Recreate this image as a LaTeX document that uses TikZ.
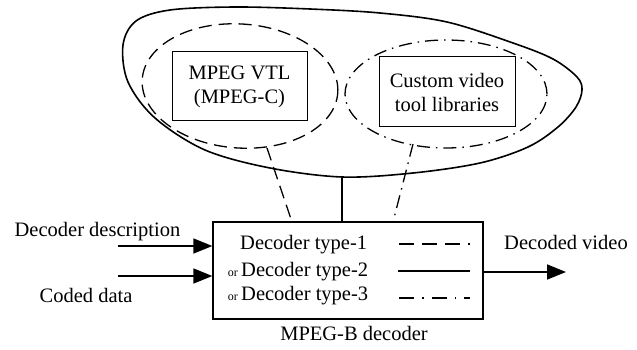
\documentclass[tikz,border=0pt]{standalone}
\usepackage{fontspec}
\setmainfont{Liberation Serif}
\usetikzlibrary{shapes.geometric,arrows.meta,calc}
\begin{document}
\begin{tikzpicture}[x=1pt,y=-1pt,
  txt/.style={font=\fontsize{20.5}{23}\selectfont, inner sep=0pt, align=center},
  small/.style={font=\fontsize{12}{13}\selectfont, inner sep=0pt},
  libbox/.style={draw, line width=1pt, inner sep=0pt, align=center, font=\fontsize{20.5}{24}\selectfont},
  dsh/.style={line width=1.3pt, dash pattern=on 13pt off 7pt},
  dshdot/.style={line width=1.3pt, dash pattern=on 13pt off 6pt on 1.5pt off 6pt},
  arr/.style={line width=1.6pt, -{Triangle[length=19pt,width=15pt]}},
  legdash/.style={line width=1.3pt, dash pattern=on 15pt off 8pt},
  legdashdot/.style={line width=1.3pt, dash pattern=on 15pt off 8pt on 1.5pt off 8pt},
]
\useasboundingbox (0,0) rectangle (637,350);

% outer blob
\draw[line width=1.6pt] plot[smooth cycle, tension=0.55] coordinates {
  (123,45) (136,21) (170,10) (235,7) (310,9) (380,13) (447,22) (513,43)
  (553,59) (577,77) (582,90) (576,107) (558,127) (528,147) (480,163)
  (413,173) (342,177) (270,168) (205,150) (155,118) (128,82)};
\coordinate (blobbot) at (342,177);

% ellipses
\node[draw, dsh, ellipse, rotate=-4, minimum width=196pt, minimum height=124pt, inner sep=0pt] (vtlell) at (240,86) {};
\node[draw, dshdot, ellipse, minimum width=202pt, minimum height=108pt, inner sep=0pt] (cusell) at (446,94) {};

% library boxes
\node[libbox, minimum width=135pt, minimum height=69pt] (vtl) at (239.5,86.5) {MPEG VTL\\(MPEG-C)};
\node[libbox, minimum width=136pt, minimum height=70pt] (cus) at (447,92) {Custom video\\tool libraries};

% decoder box
\node[draw, line width=1.3pt, minimum width=270pt, minimum height=97pt, inner sep=0pt] (dec) at (348,270.5) {};
\node[txt, anchor=north] (declabel) at (354,326) {MPEG-B decoder};

% connectors
\coordinate (c1a) at (267,148);
\coordinate (c1b) at (292,222);
\coordinate (c3a) at (413,144);
\coordinate (c3b) at (393,222);
\draw[dsh] (c1a) -- (c1b);
\draw[line width=1.3pt] (blobbot) -- (blobbot |- dec.north);
\draw[dshdot] (c3a) -- (c3b);

% legend inside box
\node[txt, anchor=west] (t1) at (240,245) {Decoder type-1};
\node[txt, anchor=west] (t2) at (241,272) {Decoder type-2};
\node[txt, anchor=west] (t3) at (241,296) {Decoder type-3};
\node[small, anchor=base east] (or2) at ($(t2.base west)+(-3,0)$) {or};
\node[small, anchor=base east] (or3) at ($(t3.base west)+(-3,0)$) {or};
\coordinate (l1a) at (399,244); \coordinate (l1b) at (470,244);
\coordinate (l2a) at (398,271); \coordinate (l2b) at (470,271);
\coordinate (l3a) at (399,298); \coordinate (l3b) at (470,298);
\draw[legdash] (l1a) -- (l1b);
\draw[line width=1.3pt] (l2a) -- (l2b);
\draw[legdashdot] (l3a) -- (l3b);

% inputs / output
\node[txt] (indesc) at (97.5,232) {Decoder description};
\node[txt] (incoded) at (86,295) {Coded data};
\node[txt] (outvid) at (566,242) {Decoded video};
\coordinate (a1) at (118,246);
\coordinate (a2) at (118,276);
\coordinate (a3) at (566,272);
\draw[arr] (a1) -- (a1 -| dec.west);
\draw[arr] (a2) -- (a2 -| dec.west);
\draw[arr] (a3 -| dec.east) -- (a3);
\end{tikzpicture}
\end{document}
